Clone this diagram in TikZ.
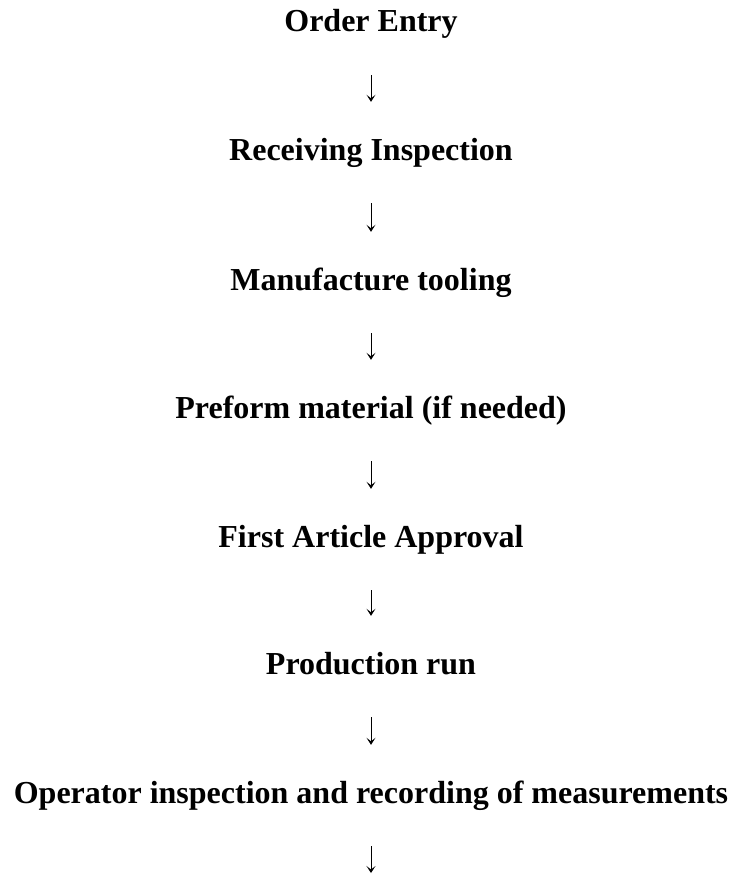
\documentclass[tikz,border=0pt]{standalone}
\usepackage{fontspec}
\setmainfont{Liberation Serif}
\usetikzlibrary{arrows.meta}

\begin{document}
\begin{tikzpicture}[x=1pt,y=1pt,>={Stealth[length=7pt,width=9pt,inset=3.5pt]},
  stage/.style={font=\fontsize{32}{38}\selectfont\bfseries,inner sep=0pt,text height=22pt,text depth=7pt,anchor=base},
  flow/.style={->,line width=1pt,shorten <=36pt,shorten >=36pt}]
  \useasboundingbox (0,0) rectangle (730,-875);
  \node[stage] (entry) at (371,-32) {Order Entry};
  \node[stage] (receiving) at (371,-160) {Receiving Inspection};
  \node[stage] (tooling) at (371,-290) {Manufacture tooling};
  \node[stage] (preform) at (371,-418) {Preform material (if needed)};
  \node[stage] (approval) at (371,-547) {First Article Approval};
  \node[stage] (run) at (371,-674) {Production run};
  \node[stage] (operator) at (371,-803) {Operator inspection and recording of measurements};
  \coordinate (tail) at (371,-873);
  \draw[flow] (entry) -- (receiving);
  \draw[flow] (receiving) -- (tooling);
  \draw[flow] (tooling) -- (preform);
  \draw[flow] (preform) -- (approval);
  \draw[flow] (approval) -- (run);
  \draw[flow] (run) -- (operator);
  \draw[flow,shorten >=0pt] (operator) -- (tail);
\end{tikzpicture}
\end{document}
